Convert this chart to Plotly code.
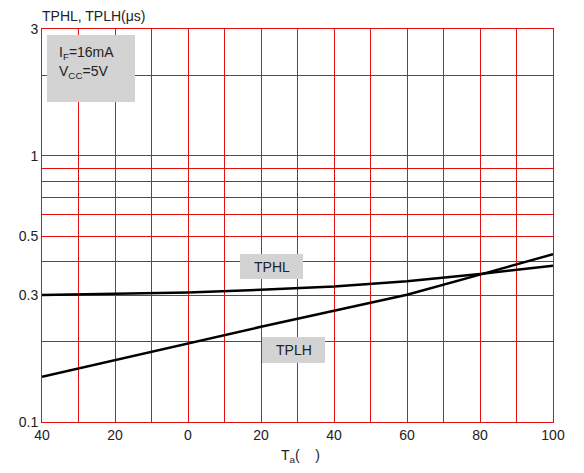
import plotly.graph_objects as go

# Data
temperature = [-40, -20, 0, 20, 40, 60, 80, 100]
tplh = [0.148, 0.171, 0.197, 0.228, 0.262, 0.301, 0.358, 0.427]
tphl = [0.300, 0.303, 0.307, 0.314, 0.323, 0.338, 0.360, 0.387]

x_tickvals = [-40, -30, -20, -10, 0, 10, 20, 30, 40, 50, 60, 70, 80, 90, 100]
x_ticktext = ["40", "", "20", "", "0", "", "20", "", "40", "", "60", "", "80", "", "100"]
y_tickvals = [0.1, 0.2, 0.3, 0.4, 0.5, 0.6, 0.7, 0.8, 0.9, 1, 2, 3]
y_ticktext = ["0.1", "", "0.3", "", "0.5", "", "", "", "", "1", "", "3"]

FONT = "Liberation Sans, Arial, sans-serif"
RED = "#e41010"
GRAY = "#d3d3d3"

fig = go.Figure()
fig.add_trace(go.Scatter(x=temperature, y=tphl, mode="lines",
                         line=dict(color="black", width=2.5), name="TPHL"))
fig.add_trace(go.Scatter(x=temperature, y=tplh, mode="lines",
                         line=dict(color="black", width=2.5), name="TPLH"))

fig.update_xaxes(range=[-40, 100], tickmode="array", tickvals=x_tickvals, ticktext=x_ticktext,
                 showgrid=True, gridcolor=RED, gridwidth=1,
                 showline=True, linecolor=RED, linewidth=1, mirror=True,
                 zeroline=False, ticks="", tickfont=dict(size=14, color="#222"))
fig.update_yaxes(type="log", range=[-1, 0.47712], tickmode="array",
                 tickvals=y_tickvals, ticktext=y_ticktext,
                 showgrid=True, gridcolor=RED, gridwidth=1,
                 showline=True, linecolor=RED, linewidth=1, mirror=True,
                 zeroline=False, ticks="", tickfont=dict(size=14, color="#222"))

shapes = [
    dict(type="rect", xref="paper", yref="paper", x0=0.0098, x1=0.182, y0=0.814, y1=0.985,
         fillcolor=GRAY, line=dict(width=0), layer="above"),
    dict(type="rect", xref="paper", yref="paper", x0=0.3875, x1=0.5108, y0=0.3639, y1=0.4275,
         fillcolor=GRAY, line=dict(width=0), layer="above"),
    dict(type="rect", xref="paper", yref="paper", x0=0.4305, x1=0.5538, y0=0.150, y1=0.2163,
         fillcolor=GRAY, line=dict(width=0), layer="above"),
]

def px(xp):
    return (xp - 42) / 511

def py(yp):
    return (422 - yp) / 393

annotations = [
    dict(text="TPHL, TPLH(μs)", x=px(40), y=py(16), xanchor="left", yanchor="middle"),
    dict(text="I<sub>F</sub>=16mA", x=px(57), y=py(53), xanchor="left", yanchor="middle"),
    dict(text="V<sub>CC</sub>=5V", x=px(57), y=py(72), xanchor="left", yanchor="middle"),
    dict(text="TPHL", x=px(271.5), y=py(267), xanchor="center", yanchor="middle"),
    dict(text="TPLH", x=px(293.5), y=py(350), xanchor="center", yanchor="middle"),
    dict(text="T<sub>a</sub>(    )", x=px(300), y=py(456), xanchor="center", yanchor="middle"),
]
for a in annotations:
    a.update(xref="paper", yref="paper", showarrow=False,
             font=dict(family=FONT, size=14, color="#222"))

# page body has an 8px margin, so the figure is shrunk by 8px in each direction
fig.update_layout(width=576, height=465, margin=dict(l=34, r=31, t=21, b=51),
                  plot_bgcolor="white", paper_bgcolor="white", showlegend=False,
                  font=dict(family=FONT, size=14, color="#222"),
                  shapes=shapes, annotations=annotations)

fig.write_html("out.html")
